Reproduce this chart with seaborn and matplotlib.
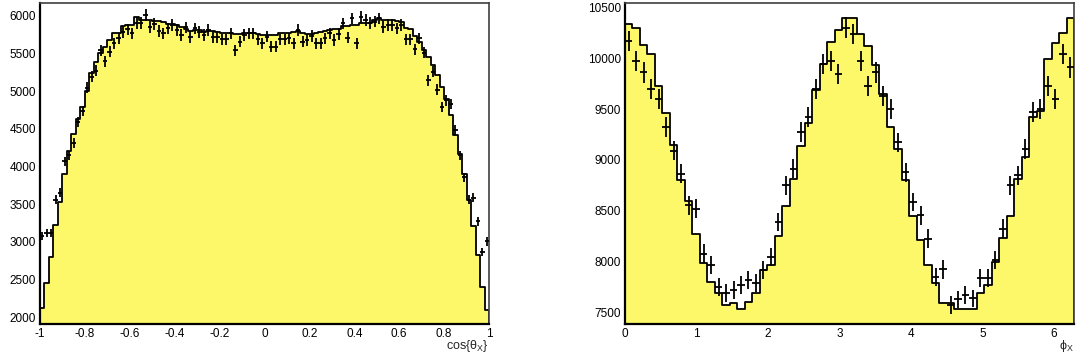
import numpy as np
import pandas as pd
import matplotlib
matplotlib.use('Agg')
import matplotlib.pyplot as plt
import seaborn as sns
from matplotlib.ticker import MultipleLocator, FuncFormatter

# cos(theta_X): 100 bins from -1 to 1
cos_edges = np.linspace(-1, 1, 101)
cos_mc = [2120, 2452, 2798, 3218, 3524, 3895, 4204, 4427, 4635, 4790,
          5003, 5247, 5380, 5500, 5588, 5677, 5766, 5775, 5863, 5875,
          5875, 5979, 5945, 5950, 5950, 5935, 5925, 5920, 5890, 5890,
          5875, 5855, 5820, 5800, 5810, 5810, 5790, 5800, 5800, 5790,
          5770, 5770, 5770, 5753, 5753, 5770, 5770, 5770, 5753, 5750,
          5745, 5740, 5740, 5770, 5770, 5775, 5790, 5800, 5770, 5760,
          5760, 5770, 5780, 5800, 5810, 5820, 5830, 5860, 5870, 5875,
          5880, 5900, 5905, 5910, 5950, 5975, 5950, 5945, 5940, 5935,
          5920, 5832, 5818, 5730, 5654, 5544, 5455, 5344, 5211, 5057,
          4901, 4677, 4414, 4170, 3904, 3560, 3205, 2829, 2407, 2097]
cos_data = [3080, 3120, 3120, 3560, 3650, 4067, 4147, 4312, 4590, 4740,
            5048, 5193, 5273, 5544, 5398, 5521, 5633, 5700, 5787, 5819,
            5766, 5907, 5907, 6009, 5854, 5890, 5800, 5766, 5832, 5876,
            5810, 5743, 5845, 5720, 5832, 5787, 5743, 5810, 5720, 5720,
            5686, 5686, 5766, 5544, 5654, 5743, 5766, 5766, 5686, 5633,
            5721, 5588, 5588, 5686, 5686, 5699, 5633, 5810, 5655, 5677,
            5730, 5633, 5633, 5699, 5766, 5677, 5760, 5899, 5710, 5965,
            5633, 5987, 5943, 5907, 5921, 5965, 5854, 5876, 5876, 5832,
            5876, 5686, 5686, 5553, 5699, 5508, 5145, 5255, 5021, 4790,
            4879, 4826, 4480, 4147, 3858, 3560, 3583, 3272, 2872, 3006]

# phi_X: 60 bins from 0 to 2pi
phi_edges = np.linspace(0, 2 * np.pi, 61)
phi_mc = [10339, 10294, 10127, 10039, 9729, 9458, 9152, 8799, 8597, 8271,
          7990, 7804, 7697, 7576, 7593, 7537, 7609, 7691, 7919, 7968,
          8252, 8545, 8809, 9139, 9360, 9687, 9947, 10162, 10274, 10397,
          10397, 10235, 10120, 9934, 9648, 9321, 9110, 8800, 8447, 8218,
          7974, 7788, 7592, 7592, 7533, 7533, 7533, 7690, 7771, 8000,
          8238, 8447, 8815, 9027, 9419, 9480, 9990, 10153, 10245, 10391]
phi_data = [10169, 9974, 9859, 9697, 9599, 9321, 9093, 8865, 8555, 8522,
            8082, 7968, 7755, 7691, 7723, 7772, 7821, 7789, 7919, 8049,
            8391, 8750, 8914, 9272, 9419, 9697, 9941, 9974, 9843, 10299,
            10235, 9974, 9729, 9859, 9631, 9501, 9174, 8881, 8587, 8456,
            8228, 7853, 7925, 7576, 7631, 7674, 7641, 7837, 7837, 8016,
            8326, 8750, 8848, 9110, 9468, 9501, 9729, 9599, 10039, 9908]

sns.set_style('white')
plt.rcParams['font.family'] = ['Liberation Sans', 'DejaVu Sans']

fill_col = '#fcf86a'


def draw_panel(ax, edges, mc, data, xlim, ylim, xmaj, xmin, ymaj, ymin, title):
    centers = 0.5 * (edges[:-1] + edges[1:])
    width = edges[1] - edges[0]
    df = pd.DataFrame({'x': centers, 'mc': mc})
    sns.histplot(data=df, x='x', weights='mc', bins=list(edges), element='step',
                 fill=True, facecolor=fill_col, edgecolor='black', linewidth=1.3,
                 ax=ax)
    data = np.asarray(data, dtype=float)
    ax.errorbar(centers, data, xerr=width / 2, yerr=np.sqrt(data), fmt='none',
                ecolor='black', elinewidth=1.3, capsize=0, zorder=3)
    ax.set_xlim(*xlim)
    ax.set_ylim(*ylim)
    ax.set_xlabel('')
    ax.set_ylabel('')
    ax.xaxis.set_major_locator(MultipleLocator(xmaj))
    ax.xaxis.set_minor_locator(MultipleLocator(xmin))
    ax.yaxis.set_major_locator(MultipleLocator(ymaj))
    ax.yaxis.set_minor_locator(MultipleLocator(ymin))
    ax.xaxis.set_major_formatter(FuncFormatter(lambda v, p: '%g' % round(v, 3)))
    ax.tick_params(which='both', direction='in', top=False, right=False,
                   labelsize=8.5, colors='black', width=1.1)
    ax.tick_params(axis='y', which='major', length=9, pad=3)
    ax.tick_params(axis='y', which='minor', length=4.5)
    ax.tick_params(axis='x', which='major', length=6, pad=3)
    ax.tick_params(axis='x', which='minor', length=3.5)
    for side in ['left', 'bottom']:
        ax.spines[side].set_linewidth(1.6)
        ax.spines[side].set_color('black')
    for side in ['top', 'right']:
        ax.spines[side].set_linewidth(1.2)
        ax.spines[side].set_color('#404040')
    ax.text(1.0, -0.045, title, transform=ax.transAxes, ha='right', va='top',
            fontsize=9)


fig = plt.figure(figsize=(10.76, 3.62), dpi=100)
ax1 = fig.add_axes([40 / 1076, 38 / 362, 449 / 1076, 321 / 362])
ax2 = fig.add_axes([625 / 1076, 38 / 362, 449 / 1076, 321 / 362])

draw_panel(ax1, cos_edges, cos_mc, cos_data, (-1, 1), (1911, 6169),
           0.2, 0.05, 500, 100, r'cos{$\mathregular{\theta_{X}}$}')
draw_panel(ax2, phi_edges, phi_mc, phi_data, (0, 2 * np.pi), (7390, 10541),
           1, 0.1, 500, 100, r'$\mathregular{\phi_{X}}$')

fig.savefig('out.png', dpi=100)
